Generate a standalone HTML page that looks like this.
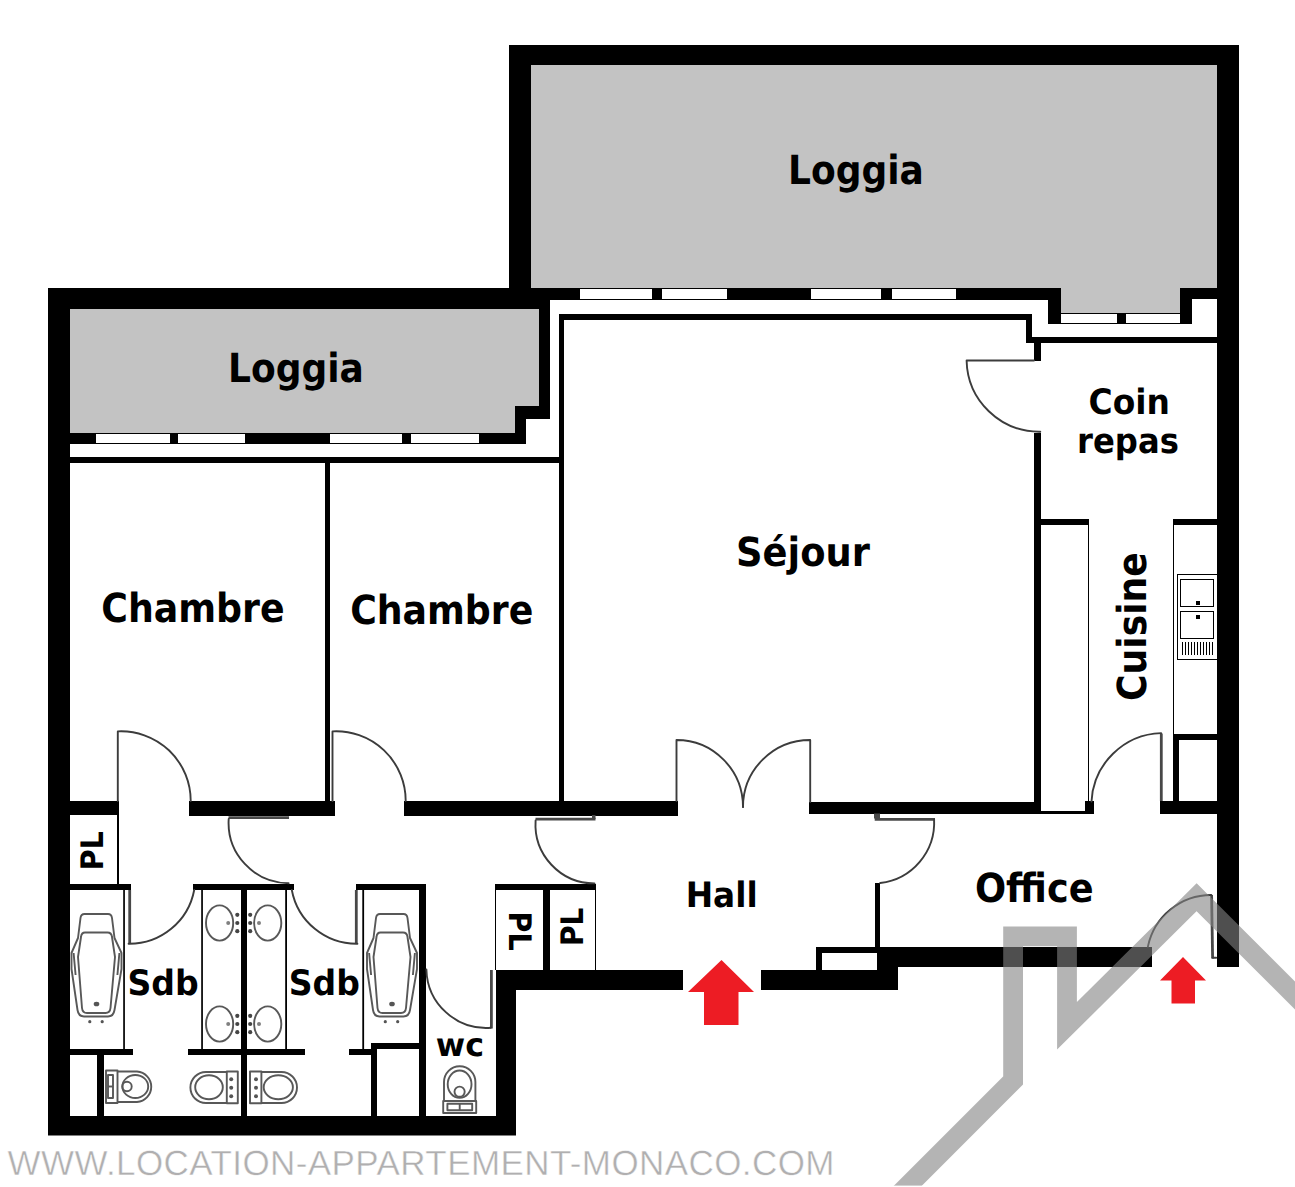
<!DOCTYPE html>
<html lang="fr">
<head>
<meta charset="utf-8">
<title>Plan appartement - Location Appartement Monaco</title>
<style>
  html, body { margin: 0; padding: 0; background: #ffffff; }
  body { width: 1295px; height: 1187px; overflow: hidden; }
  svg { display: block; }
  .lbl { font-family: "DejaVu Sans Condensed", "DejaVu Sans", "Liberation Sans", sans-serif; font-weight: bold; fill: #000; text-rendering: geometricPrecision; }
  .wm  { font-family: "Liberation Sans", "DejaVu Sans", sans-serif; fill: #b0afb0; stroke: #fff; stroke-width: 0.45px; text-rendering: geometricPrecision; }
  .w   { fill: #000; shape-rendering: crispEdges; }
  .g   { fill: #c3c3c3; shape-rendering: crispEdges; }
  .wh  { fill: #fff; shape-rendering: crispEdges; }
  .thin { stroke: #000; stroke-width: 1; fill: none; shape-rendering: crispEdges; }
  .door { stroke: #3c3c3c; stroke-width: 1.9; fill: none; stroke-linecap: round; stroke-linejoin: round; }
  .leaf { stroke: #484848; stroke-width: 2.8; fill: none; stroke-linecap: butt; }
  .fx  { stroke: #585858; stroke-width: 1.9; fill: none; stroke-linejoin: round; }
  .fxd { fill: #555; stroke: none; }
</style>
</head>
<body>
<svg width="1295" height="1187" viewBox="0 0 1295 1187">
<rect x="0" y="0" width="1295" height="1187" fill="#ffffff"/>

<!-- ===== LOGGIAS (gray) ===== -->
<g id="loggias">
  <rect class="g" x="531" y="65" width="686" height="223"/>
  <rect class="g" x="1061" y="288" width="119" height="25"/>
  <polygon class="g" points="70,309 539,309 539,406 515,406 515,433 70,433"/>
</g>

<!-- ===== OUTER WALLS ===== -->
<g id="outer">
  <rect class="w" x="509" y="45" width="730" height="20"/>
  <rect class="w" x="509" y="45" width="22" height="255"/>
  <rect class="w" x="1217" y="45" width="22" height="922"/>
  <rect class="w" x="48" y="288" width="502" height="21"/>
  <rect class="w" x="48" y="288" width="22" height="840"/>
  <rect x="48" y="1116" width="468" height="19.5" fill="#000"/>
  <rect class="w" x="496" y="970" width="20" height="160"/>
  <rect class="w" x="496" y="970" width="187" height="20"/>
  <rect class="w" x="761" y="970" width="137" height="20"/>
  <rect class="w" x="877" y="947" width="275" height="20"/>
  <rect class="w" x="877" y="947" width="21" height="43"/>
  <!-- left loggia right wall + step -->
  <rect class="w" x="539" y="288" width="11" height="131"/>
  <rect class="w" x="515" y="406" width="35" height="13"/>
  <rect class="w" x="515" y="406" width="11" height="38"/>
</g>

<!-- ===== WINDOW BANDS ===== -->
<g id="windows">
  <!-- upper loggia band y 288-300 -->
  <rect class="w" x="509" y="288" width="552" height="12"/>
  <rect class="wh" x="580" y="289" width="72" height="10"/>
  <rect class="wh" x="662" y="289" width="65" height="10"/>
  <rect class="wh" x="811" y="289" width="70" height="10"/>
  <rect class="wh" x="892" y="289" width="64" height="10"/>
  <!-- right niche -->
  <rect class="w" x="1048" y="288" width="13" height="36"/>
  <rect class="w" x="1180" y="288" width="12" height="36"/>
  <rect class="w" x="1180" y="288" width="37" height="11"/>
  <rect class="w" x="1061" y="313" width="119" height="11"/>
  <rect class="wh" x="1061" y="314" width="56" height="9"/>
  <rect class="wh" x="1126" y="314" width="54" height="9"/>
  <!-- left loggia band y 433-444 -->
  <rect class="w" x="70" y="433" width="456" height="11"/>
  <rect class="wh" x="96" y="434" width="74" height="9"/>
  <rect class="wh" x="178" y="434" width="67" height="9"/>
  <rect class="wh" x="330" y="434" width="72" height="9"/>
  <rect class="wh" x="411" y="434" width="68" height="9"/>
</g>

<!-- INTERIOR -->
<g id="interior">
  <!-- thin line under left loggia -->
  <rect class="w" x="70" y="457" width="489" height="6"/>
  <!-- chambre partition -->
  <rect class="w" x="325" y="457" width="5" height="345"/>
  <!-- sejour outline -->
  <rect class="w" x="559" y="314" width="5" height="501"/>
  <rect class="w" x="559" y="314" width="473" height="6"/>
  <rect class="w" x="1026" y="314" width="6" height="29"/>
  <rect class="w" x="1026" y="337" width="191" height="6"/>
  <rect class="w" x="1034" y="337" width="7" height="24"/>
  <rect class="w" x="1034" y="433" width="7" height="381"/>
  <!-- main horizontal wall y 802-815 -->
  <rect class="w" x="70" y="801" width="49" height="14"/>
  <rect class="w" x="189" y="801" width="146" height="15"/>
  <rect class="w" x="404" y="801" width="274" height="15"/>
  <rect class="w" x="809" y="802" width="226" height="12"/>
  <!-- kitchen bottom -->
  
  <rect class="w" x="1041" y="811" width="45" height="3"/>
  <rect class="w" x="1085" y="801" width="9" height="13"/>
  <rect class="w" x="1160" y="801" width="57" height="13"/>
  <!-- kitchen counters -->
  <rect class="w" x="1041" y="519" width="47" height="6"/>
  <rect class="w" x="1088" y="519" width="1" height="293"/>
  <rect class="w" x="1173" y="519" width="44" height="6"/>
  <rect class="w" x="1173" y="519" width="1" height="215"/>
  <rect x="1176" y="737" width="44" height="67" fill="none" stroke="#000" stroke-width="6" shape-rendering="crispEdges"/>
  <!-- hall / office partition and small box -->
  <rect class="w" x="875" y="883" width="5" height="65"/>
  <rect class="w" x="816" y="947" width="64" height="23"/>
  <rect class="wh" x="822" y="953" width="55" height="17"/>
  <!-- PL closets hall -->
  <rect class="w" x="495" y="884" width="101" height="6"/>
  <rect class="w" x="543" y="884" width="7" height="86"/>
  <rect class="w" x="495" y="884" width="1" height="86"/>
  <rect class="w" x="595" y="884" width="1" height="86"/>
  <!-- PL closet left -->
  <rect class="w" x="117" y="815" width="2" height="70"/>
  <!-- Sdb upper line y 884-890 -->
  <rect class="w" x="70" y="884" width="61" height="6"/>
  <rect class="w" x="193" y="884" width="101" height="6"/>
  <rect class="w" x="356" y="884" width="70" height="6"/>
  <!-- Sdb lower line y 1049-1055 -->
  <rect class="w" x="70" y="1049" width="63" height="6"/>
  <rect class="w" x="188" y="1049" width="117" height="6"/>
  <rect class="w" x="349" y="1049" width="23" height="6"/>
  <!-- vertical dividers -->
  <rect class="w" x="241" y="884" width="6" height="233"/>
  <rect class="w" x="419" y="884" width="7" height="233"/>
  <rect class="w" x="97" y="1049" width="7" height="68"/>
  <rect class="w" x="371" y="1043" width="6" height="74"/>
  <rect class="w" x="371" y="1043" width="50" height="6"/>
  <!-- thin verticals -->
  <rect x="123.2" y="890" width="1.7" height="160" fill="#000"/>
  <rect x="201.2" y="890" width="1.7" height="160" fill="#000"/>
  <rect x="285.2" y="890" width="1.8" height="160" fill="#000"/>
  <rect x="362.3" y="890" width="1.8" height="160" fill="#000"/>
</g>

<!-- FIXTURES -->
<g id="fixtures">
  <g transform="translate(0 0)">
    <path class="fx" d="M84.5 914 H108 Q111.5 914 112 918 L114.5 938 L121.5 953 V969 L114.5 1010 Q113.5 1016.5 108 1016.5 H84 Q78.5 1016.5 77.5 1010 L71.5 969 V953 L78 938 L80.5 918 Q81 914 84.5 914 Z"/>
    <path class="fx" d="M85 932.5 H107.5 Q111.5 932.5 112 937 L115 957 L110.5 1008 Q110 1013 105.5 1013 H87 Q82.5 1013 82 1008 L78 957 L81 937 Q81.5 932.5 85 932.5 Z"/>
    <path class="fx" d="M73.6 953 L75.6 975 M119.4 953 L117.4 975" stroke-width="2.6"/>
    <ellipse class="fxd" cx="96.5" cy="1004" rx="2.8" ry="2.3"/>
    <circle class="fxd" cx="89.8" cy="1021.7" r="1.6"/>
    <circle class="fxd" cx="102.2" cy="1021.7" r="1.6"/>
  </g>
  <g transform="translate(295.5 0)">
    <path class="fx" d="M84.5 914 H108 Q111.5 914 112 918 L114.5 938 L121.5 953 V969 L114.5 1010 Q113.5 1016.5 108 1016.5 H84 Q78.5 1016.5 77.5 1010 L71.5 969 V953 L78 938 L80.5 918 Q81 914 84.5 914 Z"/>
    <path class="fx" d="M85 932.5 H107.5 Q111.5 932.5 112 937 L115 957 L110.5 1008 Q110 1013 105.5 1013 H87 Q82.5 1013 82 1008 L78 957 L81 937 Q81.5 932.5 85 932.5 Z"/>
    <path class="fx" d="M73.6 953 L75.6 975 M119.4 953 L117.4 975" stroke-width="2.6"/>
    <ellipse class="fxd" cx="96.5" cy="1004" rx="2.8" ry="2.3"/>
    <circle class="fxd" cx="89.8" cy="1021.7" r="1.6"/>
    <circle class="fxd" cx="102.2" cy="1021.7" r="1.6"/>
  </g>
  <ellipse class="fx" cx="219.6" cy="923" rx="13.6" ry="17.6"/>
  <ellipse class="fx" cx="267.7" cy="923" rx="13.6" ry="17.6"/>
  <circle cx="237.3" cy="914.8" r="2.1" fill="#454545"/><circle cx="237.3" cy="923" r="2.1" fill="#454545"/><circle cx="237.3" cy="931.2" r="2.1" fill="#454545"/><circle cx="250.2" cy="914.8" r="2.1" fill="#454545"/><circle cx="250.2" cy="923" r="2.1" fill="#454545"/><circle cx="250.2" cy="931.2" r="2.1" fill="#454545"/><circle cx="228.2" cy="923" r="2" fill="#808080"/><circle cx="259" cy="923" r="2" fill="#808080"/>
  <ellipse class="fx" cx="219.6" cy="1024" rx="13.6" ry="17.6"/>
  <ellipse class="fx" cx="267.7" cy="1024" rx="13.6" ry="17.6"/>
  <circle cx="237.3" cy="1015.8" r="2.1" fill="#454545"/><circle cx="237.3" cy="1024" r="2.1" fill="#454545"/><circle cx="237.3" cy="1032.2" r="2.1" fill="#454545"/><circle cx="250.2" cy="1015.8" r="2.1" fill="#454545"/><circle cx="250.2" cy="1024" r="2.1" fill="#454545"/><circle cx="250.2" cy="1032.2" r="2.1" fill="#454545"/><circle cx="228.2" cy="1024" r="2" fill="#808080"/><circle cx="259" cy="1024" r="2" fill="#808080"/>
  <!-- toilet sdb1 (faces right) -->
  <rect class="fx" x="106" y="1070.5" width="11.5" height="32.5"/>
  <rect class="fx" x="108" y="1075" width="5" height="23" stroke-width="1"/>
  <path class="fx" d="M108 1086.500 H113" stroke-width="2"/>
  <path class="fx" d="M117.500 1071.500 H137 A15.500 15.300 0 0 1 137 1102 H117.500"/>
  <ellipse class="fx" cx="135.300" cy="1086.500" rx="12.900" ry="11.500"/>
  <circle class="fx" cx="127" cy="1086.500" r="4.700"/>
  <!-- bidet (faces left) -->
  <rect class="fx" x="226.800" y="1071.500" width="11" height="31.800"/>
  <path class="fx" d="M226.800 1072 H206 A15.600 15.500 0 0 0 206 1103 H226.800"/>
  <ellipse class="fx" cx="209" cy="1087.300" rx="13.800" ry="12"/>
  <circle class="fxd" cx="231.200" cy="1079.300" r="2"/><circle class="fxd" cx="231.200" cy="1087.700" r="2"/><circle class="fxd" cx="231.200" cy="1096.200" r="2"/>
  <!-- toilet sdb2 (faces right) -->
  <rect class="fx" x="250" y="1071.500" width="11.400" height="31.800"/>
  <path class="fx" d="M261.400 1072 H281.500 A15.500 15.500 0 0 1 281.500 1103 H261.400"/>
  <ellipse class="fx" cx="278.300" cy="1087.300" rx="14.600" ry="12"/>
  <circle class="fxd" cx="256" cy="1079.300" r="2"/><circle class="fxd" cx="256" cy="1087.700" r="2"/><circle class="fxd" cx="256" cy="1096.200" r="2"/>
  <!-- wc (faces up) -->
  <rect class="fx" x="443.200" y="1101" width="33" height="12"/>
  <rect class="fx" x="447.4" y="1103.8" width="24.8" height="6.4" stroke-width="1.2"/>
  <path class="fx" d="M459.700 1104 V1111" stroke-width="2.4"/>
  <path class="fx" d="M444 1101 V1082 A15.700 15.800 0 0 1 475.400 1082 V1101"/>
  <ellipse class="fx" cx="459.600" cy="1084.200" rx="11.900" ry="13.700"/>
  <circle class="fx" cx="459.600" cy="1091.700" r="5.100"/>
  <!-- kitchen sink -->
  <g stroke="#000" stroke-width="1" fill="none" shape-rendering="crispEdges">
    <rect x="1177.500" y="574.500" width="39.500" height="84.500"/>
    <rect x="1180.500" y="579.500" width="33" height="27"/>
    <rect x="1180.500" y="611.500" width="33" height="27"/>
    <path d="M1182.500 642 V655 M1185.500 642 V655 M1188.500 642 V655 M1191.500 642 V655 M1194.500 642 V655 M1197.500 642 V655 M1200.500 642 V655 M1203.500 642 V655 M1206.500 642 V655 M1209.500 642 V655 M1212.500 642 V655"/>
  </g>
  <rect class="w" x="1196" y="601" width="4" height="4"/>
  <rect class="w" x="1196" y="615" width="4" height="4"/>
</g>

<!-- DOORS -->
<g id="doors">
  <!-- coin repas -->
  <path class="door" d="M1034 360.5 H966.6 A72.8 72.8 0 0 0 1040.3 431.7"/>
  <!-- cuisine -->
  <path class="leaf" d="M1161.3 801 V733.5"/>
  <path class="door" d="M1161.1 733.1 A72 72 0 0 0 1091.5 801.5"/>
  <!-- sejour double door -->
  <path class="door" d="M676.5 801 V740 A66.5 67 0 0 1 743 807"/>
  <path class="door" d="M810.2 802 V740 A67.2 67 0 0 0 743 807"/>
  <!-- hall left -->
  <path class="leaf" d="M595.5 819.2 H535.5"/><rect x="592" y="815" width="3.5" height="4" fill="#484848"/>
  <path class="door" d="M535.6 820.5 A59 59 0 0 0 594.5 883.4"/>
  <!-- office inner -->
  <path class="leaf" d="M874.7 819.4 H935"/><rect x="874" y="813.5" width="6" height="5" fill="#484848"/>
  <path class="door" d="M934.1 819.4 A61 61 0 0 1 880.2 883"/>
  <!-- chambre 1 / chambre 2 -->
  <path class="door" d="M117.8 801 V731.4 A69.5 69.5 0 0 1 190.7 801"/>
  <path class="door" d="M332.5 801 V731.4 A69.5 69.5 0 0 1 405.7 801"/>
  <!-- corridor -->
  <path class="leaf" d="M289 817.7 H228.5"/>
  <path class="door" d="M228.7 819 A60.5 60.5 0 0 0 288.6 883.2"/>
  <!-- sdb 1 / sdb 2 -->
  <path class="leaf" d="M129.7 890 V944" stroke-width="3.4"/>
  <path class="door" d="M128.6 943.8 A66 66 0 0 0 194.2 890"/>
  <path class="leaf" d="M356.3 890 V944" stroke-width="3.4"/>
  <path class="door" d="M357.4 943.8 A66 66 0 0 1 291.8 890"/>
  <!-- wc -->
  <path class="leaf" d="M491.4 970 V1028.5"/>
  <path class="door" d="M490.8 1027.8 A60 60 0 0 1 426.4 969.4"/>
  <!-- office exterior -->
  <path class="leaf" d="M1212.6 958.5 L1211.6 895"/><path class="door" d="M1212.6 957.8 H1216.2"/>
  <path class="door" d="M1211.3 895 A64.8 64.8 0 0 0 1147.9 946.6"/>
</g>

<!-- LABELS -->
<g id="labels">
  <text class="lbl" x="788.1" y="183.6" font-size="40" textLength="135.8" lengthAdjust="spacingAndGlyphs">Loggia</text>
  <text class="lbl" x="228.1" y="381.6" font-size="40" textLength="135.8" lengthAdjust="spacingAndGlyphs">Loggia</text>
  <text class="lbl" x="101.3" y="621.5" font-size="40" textLength="183.3" lengthAdjust="spacingAndGlyphs">Chambre</text>
  <text class="lbl" x="350.2" y="623.6" font-size="40" textLength="183.1" lengthAdjust="spacingAndGlyphs">Chambre</text>
  <text class="lbl" x="736.1" y="566" font-size="40" textLength="133.8" lengthAdjust="spacingAndGlyphs">Séjour</text>
  <text class="lbl" x="1088.6" y="414" font-size="35" textLength="81.3" lengthAdjust="spacingAndGlyphs">Coin</text>
  <text class="lbl" x="1077.1" y="453" font-size="35" textLength="101.8" lengthAdjust="spacingAndGlyphs">repas</text>
  <text class="lbl" transform="translate(1145.6 700.9) rotate(-90)" font-size="40" textLength="148.7" lengthAdjust="spacingAndGlyphs">Cuisine</text>
  <text class="lbl" x="685.7" y="906.5" font-size="35" textLength="72.0" lengthAdjust="spacingAndGlyphs">Hall</text>
  <text class="lbl" x="974.9" y="901.8" font-size="40" textLength="118.6" lengthAdjust="spacingAndGlyphs">Office</text>
  <text class="lbl" x="127.5" y="995" font-size="35" textLength="71.2" lengthAdjust="spacingAndGlyphs">Sdb</text>
  <text class="lbl" x="288.8" y="995" font-size="35" textLength="71.1" lengthAdjust="spacingAndGlyphs">Sdb</text>
  <text class="lbl" x="435.8" y="1056" font-size="32" textLength="48.2" lengthAdjust="spacingAndGlyphs">wc</text>
  <text class="lbl" transform="translate(103.3 870.6) rotate(-90)" font-size="31" textLength="39.5" lengthAdjust="spacingAndGlyphs">PL</text>
  <text class="lbl" transform="translate(509.4 911.6) rotate(90)" font-size="31" textLength="39.1" lengthAdjust="spacingAndGlyphs">PL</text>
  <text class="lbl" transform="translate(583 946) rotate(-90)" font-size="31" textLength="38.4" lengthAdjust="spacingAndGlyphs">PL</text>
</g>

<!-- WATERMARK -->
<g id="watermark">
  <polygon fill="#ed1c24" points="721.5,960 754,992 738.5,992 738.5,1025 704,1025 704,992 688,992"/>
  <polygon fill="#ed1c24" points="1183,957 1206,980.5 1195,980.5 1195,1003.5 1171.5,1003.5 1171.5,980.5 1160,980.5"/>
  <polyline points="885.6,1208 1013.1,1080.5 1013.1,936.3 1067,936.3 1067,1025.8 1196.6,897.2 1320,1020.6" fill="none" stroke="#838283" stroke-opacity="0.605" stroke-width="19.8" stroke-linejoin="miter" stroke-miterlimit="10"/>
  <rect x="870" y="1185.6" width="90" height="1.4" fill="#fff"/>
  <text class="wm" x="7.5" y="1175" font-size="35" textLength="827" lengthAdjust="spacing">WWW.LOCATION-APPARTEMENT-MONACO.COM</text>
</g>

</svg>
</body>
</html>
